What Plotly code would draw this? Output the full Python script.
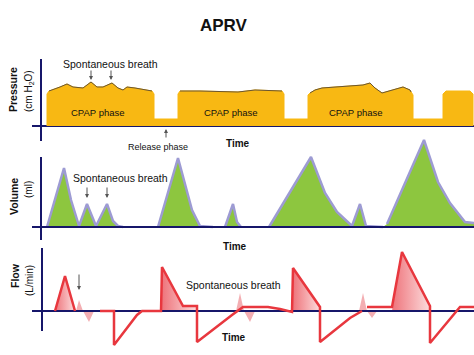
import plotly.graph_objects as go

W, H = 474, 355

# ---------------- data (time in arbitrary units, values relative to each baseline) -------------
# Pressure waveform (CPAP phases with spontaneous breaths, release phases)
pressure_t = [47, 47, 49, 55, 60, 67, 73, 83, 91, 97, 103, 112, 118, 123, 127, 135, 140, 148, 152, 154, 154,
              178, 178, 180, 200, 238, 255, 282, 284, 284,
              308, 308, 310, 315, 322, 335, 353, 363, 370, 375, 382, 390, 403, 410, 411, 413, 413,
              443, 443, 446, 470, 473, 473]
pressure_v = [0, 32, 35, 37, 39, 42, 39, 38, 44, 39, 39, 43, 38, 36, 39, 38, 37, 36, 35, 32, 7,
              7, 32, 35, 35, 34, 36, 35, 32, 7,
              7, 31, 33, 36, 38, 39, 40, 41, 43, 38, 33, 35, 39, 36, 34, 31, 7,
              7, 32, 35, 35, 32, 0]
ptop_t = [49, 55, 60, 67, 73, 83, 91, 97, 103, 112, 118, 123, 127, 135, 140, 148, 152, None,
          180, 200, 238, 255, 282, None,
          310, 315, 322, 335, 353, 363, 370, 375, 382, 390, 403, 410, 411]
ptop_v = [35, 37, 39, 42, 39, 38, 44, 39, 39, 43, 38, 36, 39, 38, 37, 36, 35, None,
          35, 35, 34, 36, 35, None,
          33, 36, 38, 39, 40, 41, 43, 38, 33, 35, 39, 36, 34]

# Volume waveform
volume_t = [47, 64, 71, 79, 87, 96, 107, 113, 118, 123, None,
            158, 178, 192, 200, 213, None,
            225, 233, 237, 241, None,
            269, 311, 325, 337, 352, 360, 366, 383, None,
            387, 424, 438, 450, 465, 474]
volume_v = [0, 59, 27, 1, 23, 1, 23, 6, 1, 0, None,
            0, 69, 17, 1, 0, None,
            0, 23, 5, 0, None,
            0, 70, 34, 15, 1, 23, 1, 0, None,
            3, 87, 45, 24, 5, 4]

# Flow waveform (red line)
flow_t = [55, 65, 75, None,
          100, 114, 114, 137, 142, 155, 161, 162, 183, 197, 197, 232, 240, 243, 268, 280, 292, 293, 320, 320,
          350, 362, None,
          367, 392, 402, 430, 430, 460, 474]
flow_v = [0, 35, 0, None,
          0, 0, -34, -4, 0, 0, 0, 44, 5, 5, -31, -4, 2, 4, 4, 2, -1, 43, 4, -31,
          -7, 0, None,
          4, 4, 59, 5, -32, 4, 4]

# Mandatory inspiratory flow areas
insp_fills = [
    ([55, 65, 75, 55], [0, 35, 0, 0]),
    ([162, 162, 183, 197, 197, 162], [0, 44, 5, 5, 0, 0]),
    ([293, 293, 320, 320, 293], [0, 43, 4, 0, 0]),
    ([392, 402, 430, 430, 392], [0, 59, 5, 0, 0]),
]
# Spontaneous breath flow spikes
spont_fills = [
    ([76, 79, 83, 89, 94, 76], [0, 11, 0, -11, 0, 0]),
    ([236, 240, 244, 250, 255, 236], [0, 18, 0, -11, 0, 0]),
    ([359, 363, 367, 372, 377, 359], [0, 18, 0, -7, 0, 0]),
]

AXIS_C = "#16166a"
FONT = "Liberation Sans, Arial, sans-serif"

# panel geometry: (top px, bottom px, baseline px)
panels = {"y": (40, 150, 126), "y2": (130, 245, 227), "y3": (240, 355, 311)}


def px(x):
    return x / W


def py(y):
    return 1 - y / H


fig = go.Figure()

# ---------- Pressure ----------
fig.add_trace(go.Scatter(x=[32, 474], y=[0, 0], mode="lines", line=dict(color=AXIS_C, width=2),
                         yaxis="y", hoverinfo="skip"))
fig.add_trace(go.Scatter(x=pressure_t, y=pressure_v, mode="lines", fill="toself",
                         fillcolor="#f8b813", line=dict(color="#f8b813", width=1), yaxis="y"))
fig.add_trace(go.Scatter(x=ptop_t, y=ptop_v, mode="lines", line=dict(color="#6b5630", width=1),
                         yaxis="y", connectgaps=False))

# ---------- Volume ----------
fig.add_trace(go.Scatter(x=volume_t, y=volume_v, mode="lines", fill="tozeroy", fillcolor="#8dc63f",
                         line=dict(color="#9d9bd3", width=2.5), connectgaps=False, yaxis="y2"))
fig.add_trace(go.Scatter(x=[32, 474], y=[0, 0], mode="lines", line=dict(color=AXIS_C, width=2), yaxis="y2"))

# ---------- Flow ----------
for ft, fv in spont_fills:
    fig.add_trace(go.Scatter(x=ft, y=fv, mode="lines", fill="toself", fillcolor="rgba(238,140,146,0.7)",
                             line=dict(width=0), yaxis="y3"))
for ft, fv in insp_fills:
    fig.add_trace(go.Scatter(x=ft, y=fv, mode="lines", fill="toself",
                             fillgradient=dict(type="horizontal",
                                               colorscale=[[0, "#ee747b"], [1, "#fcdcdd"]]),
                             line=dict(width=0), yaxis="y3"))
fig.add_trace(go.Scatter(x=[32, 474], y=[0, 0], mode="lines", line=dict(color=AXIS_C, width=2), yaxis="y3"))
fig.add_trace(go.Scatter(x=flow_t, y=flow_v, mode="lines", line=dict(color="#e8373e", width=2.5),
                         connectgaps=False, yaxis="y3"))

# vertical axis lines (one per panel)
shapes = [
    dict(type="line", xref="x", yref="y", x0=41, x1=41, y0=67, y1=-15, line=dict(color=AXIS_C, width=2)),
    dict(type="line", xref="x", yref="y2", x0=41, x1=41, y0=70, y1=-13, line=dict(color=AXIS_C, width=2)),
    dict(type="line", xref="x", yref="y3", x0=42, x1=42, y0=63, y1=-20, line=dict(color=AXIS_C, width=2)),
]

# ---------- layout ----------
layout_axes = {}
for name, (top, bot, base) in panels.items():
    key = "yaxis" if name == "y" else "yaxis" + name[1:]
    layout_axes[key] = dict(domain=[1 - bot / H, 1 - top / H], range=[-(bot - base), base - top],
                            visible=False, fixedrange=True, anchor="x")

annotations = []


def txt(x, y, s, size, bold=False, angle=0):
    annotations.append(dict(x=px(x), y=py(y), xref="paper", yref="paper", text=("<b>%s</b>" % s) if bold else s,
                            showarrow=False, font=dict(size=size, color="#111111", family=FONT),
                            textangle=angle, xanchor="center", yanchor="middle"))


def arrow(x, y, yref, ay):
    annotations.append(dict(x=x, y=y, xref="x", yref=yref, ax=0, ay=ay, text="", showarrow=True,
                            arrowhead=2, arrowsize=0.8, arrowwidth=1, arrowcolor="#555555"))


txt(224, 25, "APRV", 17, bold=True)
txt(13, 90, "Pressure", 10.5, bold=True, angle=-90)
txt(29, 91, "(cm H<sub>2</sub>O)", 10, angle=-90)
txt(110, 64, "Spontaneous breath", 10.5)
txt(98, 112, "CPAP phase", 9.5)
txt(231, 112, "CPAP phase", 9.5)
txt(356, 112, "CPAP phase", 9.5)
txt(158, 147, "Release phase", 9)
txt(238, 143, "Time", 10, bold=True)

txt(14, 197, "Volume", 10.5, bold=True, angle=-90)
txt(29, 190, "(ml)", 10, angle=-90)
txt(120, 178, "Spontaneous breath", 10.5)
txt(235, 246, "Time", 10, bold=True)

txt(15, 276, "Flow", 10.5, bold=True, angle=-90)
txt(29, 281, "(L/min)", 10, angle=-90)
txt(233, 285, "Spontaneous breath", 10.5)
txt(234, 337, "Time", 10, bold=True)

arrow(91, 126 - 80, "y", -11)
arrow(111, 126 - 80, "y", -11)
arrow(166, 126 - 129, "y", 10)
arrow(87, 227 - 198, "y2", -12)
arrow(107, 227 - 198, "y2", -12)
arrow(79, 311 - 290, "y3", -17)

fig.update_layout(
    width=W, height=H, margin=dict(l=0, r=0, t=0, b=0),
    paper_bgcolor="white", plot_bgcolor="rgba(0,0,0,0)",
    showlegend=False,
    xaxis=dict(range=[0, W], domain=[0, 1], visible=False, fixedrange=True, anchor="y"),
    annotations=annotations,
    shapes=shapes,
    font=dict(family=FONT),
    **layout_axes,
)

fig.write_html("out.html", config={"displayModeBar": False},
               post_script="document.body.style.margin='0';")
